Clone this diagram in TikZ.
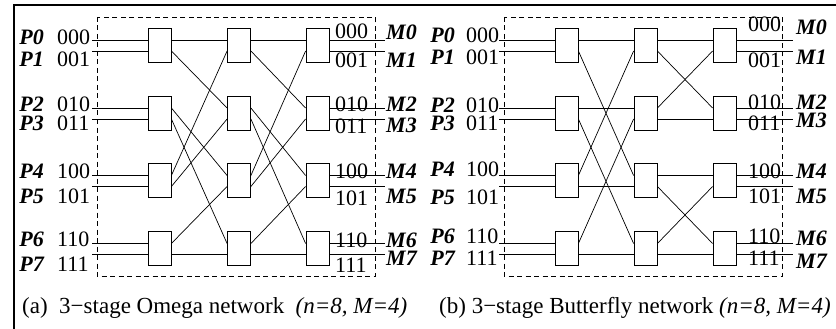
\documentclass[tikz,border=0pt]{standalone}
\usepackage{fontspec}
\setmainfont{Liberation Serif}
\usetikzlibrary{calc}
\begin{document}
\begin{tikzpicture}[x=1pt,y=-1pt,
  sw/.style={draw, line width=0.8pt, minimum width=23pt, minimum height=34pt, inner sep=0pt, fill=white},
  wire/.style={line width=0.7pt},
  dashbox/.style={line width=0.8pt, dash pattern=on 5pt off 3.5pt},
  pA/.style={yshift=5pt}, pB/.style={yshift=-6pt},
  txt/.style={inner sep=0pt, font=\fontsize{22}{26}\selectfont},
  bi/.style={inner sep=0pt, font=\fontsize{22}{26}\selectfont\bfseries\itshape},
  captxt/.style={inner sep=0pt, anchor=base west, font=\fontsize{23}{27}\selectfont}
]
\useasboundingbox (0,0) rectangle (836,329);
\draw[line width=1.2pt] (14,329) -- (14,5) -- (836,5);

% dashed enclosures
\draw[dashbox] (97,17) rectangle (375,276);
\draw[dashbox] (504,17) rectangle (782,276);

% free-end coordinates
\coordinate (aInX) at (92,0);
\coordinate (aOutX) at (385,0);
\coordinate (bInX) at (499,0);
\coordinate (bOutX) at (793,0);

% switches
\foreach \c/\x in {1/159.5,2/239,3/317.5}
  \foreach \r/\y in {0/45,1/113,2/180.5,3/248.5}
    \node[sw] (a\c\r) at (\x,\y) {};
\foreach \c/\x in {1/566.5,2/645.5,3/724.5}
  \foreach \r/\y in {0/45,1/113,2/180.5,3/248.5}
    \node[sw] (b\c\r) at (\x,\y) {};

% input and output wires
\foreach \r in {0,1,2,3} {
  \draw[wire] ([pA]a1\r.west) -- ([pA]a1\r.west -| aInX);
  \draw[wire] ([pB]a1\r.west) -- ([pB]a1\r.west -| aInX);
  \draw[wire] ([pA]a3\r.east) -- ([pA]a3\r.east -| aOutX);
  \draw[wire] ([pB]a3\r.east) -- ([pB]a3\r.east -| aOutX);
  \draw[wire] ([pA]b1\r.west) -- ([pA]b1\r.west -| bInX);
  \draw[wire] ([pB]b1\r.west) -- ([pB]b1\r.west -| bInX);
  \draw[wire] ([pA]b3\r.east) -- ([pA]b3\r.east -| bOutX);
  \draw[wire] ([pB]b3\r.east) -- ([pB]b3\r.east -| bOutX);
}

% Omega: perfect shuffle between stages
\foreach \s/\t in {a1/a2,a2/a3} {
  \draw[wire] ([pA]\s0.east) -- ([pA]\t0.west);
  \draw[wire] ([pB]\s0.east) -- ([pA]\t1.west);
  \draw[wire] ([pA]\s1.east) -- ([pA]\t2.west);
  \draw[wire] ([pB]\s1.east) -- ([pA]\t3.west);
  \draw[wire] ([pA]\s2.east) -- ([pB]\t0.west);
  \draw[wire] ([pB]\s2.east) -- ([pB]\t1.west);
  \draw[wire] ([pA]\s3.east) -- ([pB]\t2.west);
  \draw[wire] ([pB]\s3.east) -- ([pB]\t3.west);
}

% Butterfly stage 1 -> 2
\draw[wire] ([pA]b10.east) -- ([pA]b20.west);
\draw[wire] ([pB]b10.east) -- ([pA]b22.west);
\draw[wire] ([pA]b11.east) -- ([pA]b21.west);
\draw[wire] ([pB]b11.east) -- ([pA]b23.west);
\draw[wire] ([pA]b12.east) -- ([pB]b20.west);
\draw[wire] ([pB]b12.east) -- ([pB]b22.west);
\draw[wire] ([pA]b13.east) -- ([pB]b21.west);
\draw[wire] ([pB]b13.east) -- ([pB]b23.west);
% Butterfly stage 2 -> 3
\draw[wire] ([pA]b20.east) -- ([pA]b30.west);
\draw[wire] ([pB]b20.east) -- ([pA]b31.west);
\draw[wire] ([pA]b21.east) -- ([pB]b30.west);
\draw[wire] ([pB]b21.east) -- ([pB]b31.west);
\draw[wire] ([pA]b22.east) -- ([pA]b32.west);
\draw[wire] ([pB]b22.east) -- ([pA]b33.west);
\draw[wire] ([pA]b23.east) -- ([pB]b32.west);
\draw[wire] ([pB]b23.east) -- ([pB]b33.west);

% labels panel a
\foreach \i/\b/\n in {0/45/000,1/66.5/001,2/112/010,3/130/011,4/178/100,5/203/101,6/246/110,7/271/111} {
  \node[bi, anchor=base east] (aP\i) at (44,\b) {P\i};
  \node[txt, anchor=base west] (aN\i) at (57,\b) {\n};
}
\foreach \i/\b/\n in {0/39/000,1/67/001,2/112/010,3/133/011,4/178/100,5/205/101,6/247/110,7/272/111}
  \node[txt, anchor=base west] (aO\i) at (335,\b) {\n};
\foreach \i/\b in {0/40,1/67,2/112,3/132,4/178,5/203,6/247,7/265}
  \node[bi, anchor=base west] (aM\i) at (386,\b) {M\i};

% labels panel b
\foreach \i/\b/\n in {0/43/000,1/65/001,2/113/010,3/130/011,4/176/100,5/204/101,6/243/110,7/265/111} {
  \node[bi, anchor=base east] (bP\i) at (455,\b) {P\i};
  \node[txt, anchor=base west] (bN\i) at (466,\b) {\n};
}
\foreach \i/\b/\n in {0/32/000,1/67/001,2/110/010,3/130/011,4/178/100,5/203/101,6/243/110,7/265/111}
  \node[txt, anchor=base west] (bO\i) at (748,\b) {\n};
\foreach \i/\b in {0/35,1/65,2/110,3/128,4/178,5/203,6/245,7/268}
  \node[bi, anchor=base west] (bM\i) at (796,\b) {M\i};

% captions
\node[captxt] (capa) at (22,313) {(a)\ \ 3−stage Omega network\ \ \textit{(n=8, M=4)}};
\node[captxt] (capb) at (439,313) {(b) 3−stage Butterfly network \textit{(n=8, M=4)}};
\end{tikzpicture}
\end{document}
